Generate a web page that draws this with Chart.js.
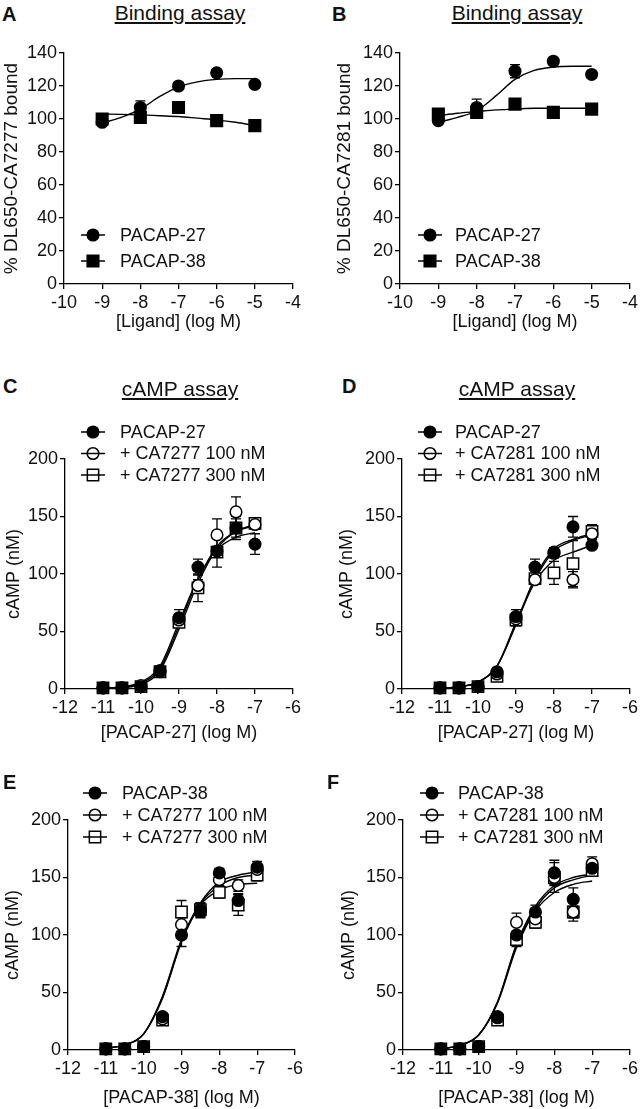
<!DOCTYPE html>
<html>
<head>
<meta charset="utf-8">
<script src="https://cdn.jsdelivr.net/npm/chart.js@4.4.0/dist/chart.umd.min.js"></script>
<style>
body { margin:0; background:#fff; }
#page { position:relative; width:641px; height:1109px; overflow:hidden; font-family:"Liberation Sans", Arial, sans-serif; color:#111; }
canvas { position:absolute; }
.lbl { position:absolute; font-weight:bold; font-size:20px; z-index:2; }
.ttl { position:absolute; font-size:21px; text-decoration:underline; text-align:center; width:200px; z-index:2; }
</style>
</head>
<body>
<div id="page">
  <div class="lbl" style="left:2px;top:3px">A</div>
  <div class="lbl" style="left:332px;top:3px">B</div>
  <div class="lbl" style="left:3px;top:375px">C</div>
  <div class="lbl" style="left:342px;top:375px">D</div>
  <div class="lbl" style="left:3px;top:771px">E</div>
  <div class="lbl" style="left:327px;top:771px">F</div>
  <div class="ttl" style="left:80px;top:1px">Binding assay</div>
  <div class="ttl" style="left:417px;top:1px">Binding assay</div>
  <div class="ttl" style="left:80px;top:377px">cAMP assay</div>
  <div class="ttl" style="left:417px;top:377px">cAMP assay</div>
  <canvas id="cA" width="320" height="303" style="left:0px;top:30px"></canvas>
  <canvas id="cB" width="308" height="303" style="left:333px;top:30px"></canvas>
  <canvas id="cC" width="318" height="344" style="left:2px;top:400px"></canvas>
  <canvas id="cD" width="305" height="344" style="left:336px;top:400px"></canvas>
  <canvas id="cE" width="319" height="339" style="left:1px;top:770px"></canvas>
  <canvas id="cF" width="303" height="339" style="left:338px;top:770px"></canvas>
</div>
<script>
// ---- data (log M on x) ----
const bindX = [-9, -8, -7, -6, -5];
const bindFitX = [-9, -8.5, -8, -7.5, -7, -6.5, -6, -5.5, -5];
const campX = [-11, -10.5, -10, -9.5, -9, -8.5, -8, -7.5, -7];

// A: DL650-CA7277 binding
const a27 = [98, 107, 120, 128, 121];
const a27Err = [2, 4, 2, 2, 2];
const a38 = [100, 101, 107, 99, 96];
const a38Err = [3, 3, 2, 2, 2];
const a27Fit = [97.5, 101, 106, 113.5, 119.5, 122.5, 124, 124.5, 124.5];
const a38Fit = [103, 102.8, 102.5, 102, 101.5, 100.5, 99.5, 98, 96];

// B: DL650-CA7281 binding
const b27 = [99, 107, 129, 135, 127];
const b27Err = [2, 5, 4, 2, 2];
const b38 = [103, 104, 109, 104, 106];
const b38Err = [2, 2, 2, 2, 2];
const b27Fit = [98, 101, 105, 114, 124, 129.5, 131.5, 132, 132];
const b38Fit = [102, 103.5, 104.5, 105.5, 106, 106.5, 106.5, 106.5, 106.5];

// C: PACAP-27 +/- CA7277
const c27 = [1, 1, 2, 16, 62, 106, 120, 140, 126];
const c27Err = [1, 1, 1, 3, 7, 7, 4, 8, 9];
const c100 = [1, 1, 3, 15, 60, 90, 134, 154, 143];
const c100Err = [1, 1, 1, 3, 5, 5, 14, 13, 4];
const c300 = [1, 1, 2, 15, 58, 88, 119, 140, 144];
const c300Err = [1, 1, 1, 3, 4, 12, 13, 10, 4];
const c27Fit = [0.5, 2, 6, 20, 58, 96, 121, 132, 136];
const c100Fit = [0.5, 1.5, 5, 18, 55, 95, 124, 137, 142];
const c300Fit = [0.3, 1.2, 4, 16, 52, 92, 122, 137, 143];

// D: PACAP-27 +/- CA7281
const d27 = [1, 1, 2, 15, 63, 106, 119, 141, 125];
const d27Err = [1, 1, 1, 3, 6, 7, 4, 9, 3];
const d100 = [1, 1, 2, 13, 61, 95, 118, 95, 135];
const d100Err = [1, 1, 1, 3, 5, 4, 4, 7, 5];
const d300 = [1, 1, 2, 11, 60, 96, 101, 109, 137];
const d300Err = [1, 1, 1, 3, 5, 4, 10, 20, 6];
const d27Fit = [0.5, 2, 6, 20, 57, 97, 122, 130, 135];
const d100Fit = [0.5, 2, 6, 20, 56, 95, 120, 129, 134];
const d300Fit = [0.5, 2, 6, 20, 58, 93, 112, 119, 125];

// E: PACAP-38 +/- CA7277
const e38 = [1, 1, 3, 29, 100, 121, 154, 130, 159];
const e38Err = [1, 1, 1, 3, 10, 6, 4, 6, 5];
const e100 = [1, 1, 3, 27, 109, 122, 148, 143, 157];
const e100Err = [1, 1, 1, 3, 6, 6, 5, 5, 5];
const e300 = [1, 1, 3, 26, 120, 122, 137, 126, 152];
const e300Err = [1, 1, 1, 3, 10, 6, 5, 9, 5];
const e38Fit = [1.5, 4.5, 14, 47, 96, 128, 146, 152, 155];
const e100Fit = [1.5, 4.5, 14, 46, 95, 127, 143, 150, 152];
const e300Fit = [1.5, 4.5, 14, 45, 94, 126, 139, 144, 145];

// F: PACAP-38 +/- CA7281
const f38 = [1, 1, 3, 29, 100, 120, 154, 131, 158];
const f38Err = [1, 1, 1, 3, 8, 6, 11, 10, 5];
const f100 = [1, 1, 3, 28, 111, 114, 150, 120, 162];
const f100Err = [1, 1, 1, 3, 8, 5, 6, 5, 6];
const f300 = [1, 1, 3, 26, 96, 111, 150, 120, 156];
const f300Err = [1, 1, 1, 3, 6, 5, 13, 8, 5];
const f38Fit = [1, 4, 13, 42, 92, 125, 143, 150, 153];
const f100Fit = [1, 4, 13, 42, 91, 123, 141, 148, 152];
const f300Fit = [1, 4, 13, 41, 89, 121, 137, 144, 147];

// ---- styles ----
const FONT = '"Liberation Sans", Arial, sans-serif';
const INK = '#111';
const filledCircle = { shape: 'circle', r: 5.8, fill: '#000' };
const openCircle = { shape: 'circle', r: 5.8, fill: '#fff' };
const openSquare = { shape: 'rect', r: 8, fill: '#fff' };
const filledSquare = { shape: 'rect', r: 8.2, fill: '#000' };

const pts = (xs, ys) => xs.map((x, i) => ({ x: x, y: ys[i] }));

const errBars = {
  id: 'errBars',
  beforeDatasetsDraw(chart) {
    const ctx = chart.ctx, xs = chart.scales.x, ys = chart.scales.y;
    ctx.save();
    ctx.strokeStyle = '#000';
    ctx.lineWidth = 1.3;
    chart.data.datasets.forEach(ds => {
      if (!ds.err) return;
      ds.data.forEach((p, i) => {
        const e = ds.err[i];
        if (!e) return;
        const px = xs.getPixelForValue(p.x);
        const y1 = ys.getPixelForValue(p.y + e), y2 = ys.getPixelForValue(p.y - e);
        ctx.beginPath();
        ctx.moveTo(px, y1); ctx.lineTo(px, y2);
        ctx.moveTo(px - 5, y1); ctx.lineTo(px + 5, y1);
        ctx.moveTo(px - 5, y2); ctx.lineTo(px + 5, y2);
        ctx.stroke();
      });
    });
    ctx.restore();
  }
};

function marker(ctx, st, x, y) {
  ctx.beginPath();
  if (st.shape === 'circle') ctx.arc(x, y, st.r, 0, Math.PI * 2);
  else { const h = st.r * Math.SQRT1_2; ctx.rect(x - h, y - h, 2 * h, 2 * h); }
  ctx.fillStyle = st.fill;
  ctx.fill();
  ctx.stroke();
}

const symLegend = {
  id: 'symLegend',
  afterDraw(chart, args, o) {
    const ctx = chart.ctx;
    ctx.save();
    ctx.strokeStyle = '#000';
    ctx.lineWidth = 1.5;
    o.items.forEach((it, i) => {
      const y = o.y + i * o.dy;
      const line = () => { ctx.beginPath(); ctx.moveTo(o.cx - 12, y); ctx.lineTo(o.cx + 12, y); ctx.stroke(); };
      if (it.style.fill === '#000') { line(); marker(ctx, it.style, o.cx, y); }
      else { marker(ctx, it.style, o.cx, y); line(); }
      ctx.fillStyle = INK;
      ctx.font = '18px ' + FONT;
      ctx.textBaseline = 'middle';
      ctx.fillText(it.label, o.tx, y + 1);
    });
    ctx.restore();
  }
};

function panel(id, p) {
  const datasets = [];
  p.series.forEach(s => {
    datasets.push({
      data: pts(p.x, s.y), err: s.err, showLine: false, clip: false,
      pointStyle: s.style.shape, pointRadius: s.style.r,
      pointBackgroundColor: s.style.fill, pointBorderColor: '#000', pointBorderWidth: 1.5
    });
  });
  p.fits.forEach(f => {
    datasets.push({
      data: pts(p.fitX, f), showLine: true, clip: false, pointRadius: 0,
      borderColor: '#000', borderWidth: 1.4, cubicInterpolationMode: 'monotone'
    });
  });
  const tickFont = { family: FONT, size: 18 };
  new Chart(document.getElementById(id), {
    type: 'scatter',
    data: { datasets: datasets },
    plugins: [errBars, symLegend],
    options: {
      responsive: false, animation: false, events: [],
      layout: { padding: { left: 0, top: p.g.pt, right: p.g.pr, bottom: 0 } },
      plugins: {
        legend: { display: false }, tooltip: { enabled: false },
        symLegend: { cx: p.leg.cx, tx: p.leg.tx, y: p.leg.y, dy: p.leg.dy,
          items: p.series.map(s => ({ label: s.label, style: s.style })) }
      },
      scales: {
        x: {
          type: 'linear', min: p.xMin, max: p.xMax,
          afterFit: s => { s.height = p.g.xh; },
          ticks: { stepSize: 1, font: tickFont, color: INK, padding: 3, maxRotation: 0, autoSkip: false },
          grid: { drawOnChartArea: false, tickLength: 5, color: '#000', lineWidth: 1.3 },
          border: { color: '#000', width: 1.3 },
          title: { display: true, text: p.xTitle, font: { family: FONT, size: 18 }, color: INK, padding: 0 }
        },
        y: {
          min: 0, max: p.yMax,
          afterFit: s => { s.width = p.g.yw; },
          ticks: { stepSize: p.yStep, font: tickFont, color: INK, padding: 2 },
          grid: { drawOnChartArea: false, tickLength: 5, color: '#000', lineWidth: 1.3 },
          border: { color: '#000', width: 1.3 },
          title: { display: true, text: p.yTitle, font: { family: FONT, size: p.yTitleSize }, color: INK, padding: { top: p.g.tp, bottom: 0 } }
        }
      }
    }
  });
}

const bindBase = { x: bindX, fitX: bindFitX, xMin: -10, xMax: -4, yMax: 140, yStep: 20, xTitle: '[Ligand] (log M)', yTitleSize: 19 };
const campBase = { x: campX, fitX: campX, xMin: -12, xMax: -6, yMax: 200, yStep: 50, yTitle: 'cAMP (nM)', yTitleSize: 18 };

panel('cA', Object.assign({}, bindBase, {
  yTitle: '% DL650-CA7277 bound',
  series: [
    { label: 'PACAP-27', y: a27, err: a27Err, style: filledCircle },
    { label: 'PACAP-38', y: a38, err: a38Err, style: filledSquare }
  ],
  fits: [a27Fit, a38Fit],
  g: { yw: 64, xh: 49, pt: 23, pr: 27, tp: 0 },
  leg: { cx: 93, tx: 120, y: 205, dy: 26 }
}));

panel('cB', Object.assign({}, bindBase, {
  yTitle: '% DL650-CA7281 bound',
  series: [
    { label: 'PACAP-27', y: b27, err: b27Err, style: filledCircle },
    { label: 'PACAP-38', y: b38, err: b38Err, style: filledSquare }
  ],
  fits: [b27Fit, b38Fit],
  g: { yw: 67, xh: 49, pt: 23, pr: 11, tp: 0 },
  leg: { cx: 97, tx: 122, y: 205, dy: 26 }
}));

panel('cC', Object.assign({}, campBase, {
  xTitle: '[PACAP-27] (log M)',
  series: [
    { label: 'PACAP-27', y: c27, err: c27Err, style: filledCircle },
    { label: '+ CA7277 100 nM', y: c100, err: c100Err, style: openCircle },
    { label: '+ CA7277 300 nM', y: c300, err: c300Err, style: openSquare }
  ],
  fits: [c27Fit, c100Fit, c300Fit],
  g: { yw: 63, xh: 55, pt: 59, pr: 27, tp: 1 },
  leg: { cx: 91, tx: 118, y: 32, dy: 21.5 }
}));

panel('cD', Object.assign({}, campBase, {
  xTitle: '[PACAP-27] (log M)',
  series: [
    { label: 'PACAP-27', y: d27, err: d27Err, style: filledCircle },
    { label: '+ CA7281 100 nM', y: d100, err: d100Err, style: openCircle },
    { label: '+ CA7281 300 nM', y: d300, err: d300Err, style: openSquare }
  ],
  fits: [d27Fit, d100Fit, d300Fit],
  g: { yw: 66, xh: 55, pt: 59, pr: 11, tp: 0 },
  leg: { cx: 94, tx: 119, y: 32, dy: 21.5 }
}));

panel('cE', Object.assign({}, campBase, {
  xTitle: '[PACAP-38] (log M)',
  series: [
    { label: 'PACAP-38', y: e38, err: e38Err, style: filledCircle },
    { label: '+ CA7277 100 nM', y: e100, err: e100Err, style: openCircle },
    { label: '+ CA7277 300 nM', y: e300, err: e300Err, style: openSquare }
  ],
  fits: [e38Fit, e100Fit, e300Fit],
  g: { yw: 67, xh: 59, pt: 50, pr: 25, tp: 1 },
  leg: { cx: 94, tx: 121, y: 23, dy: 22 }
}));

panel('cF', Object.assign({}, campBase, {
  xTitle: '[PACAP-38] (log M)',
  series: [
    { label: 'PACAP-38', y: f38, err: f38Err, style: filledCircle },
    { label: '+ CA7281 100 nM', y: f100, err: f100Err, style: openCircle },
    { label: '+ CA7281 300 nM', y: f300, err: f300Err, style: openSquare }
  ],
  fits: [f38Fit, f100Fit, f300Fit],
  g: { yw: 65, xh: 59, pt: 50, pr: 9, tp: 0 },
  leg: { cx: 94, tx: 120, y: 23, dy: 22 }
}));
</script>
</body>
</html>
